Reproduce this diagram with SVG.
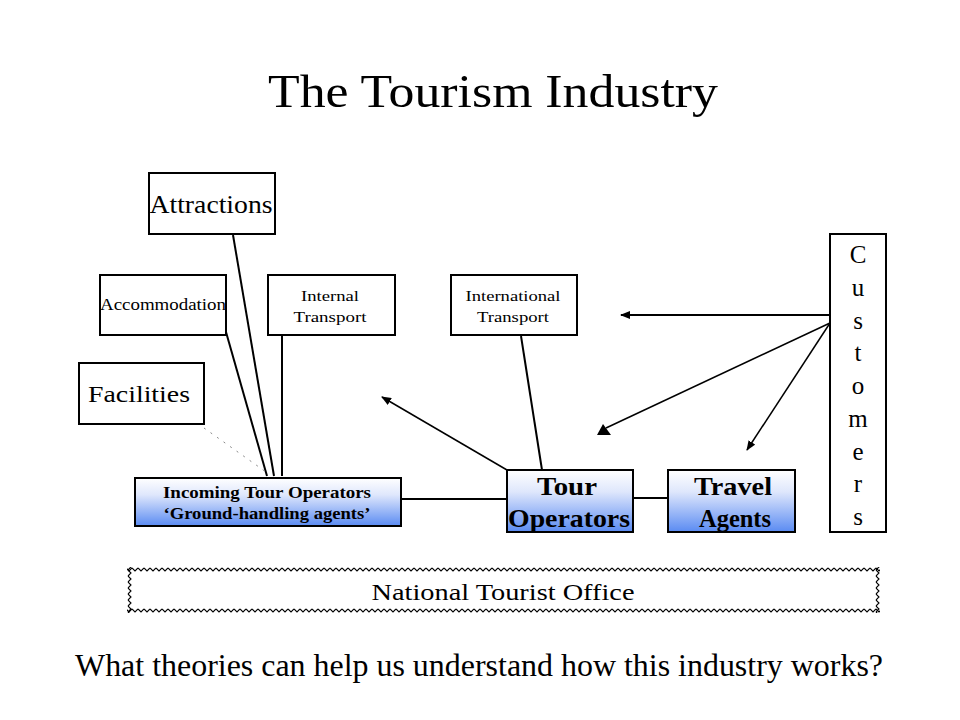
<svg xmlns="http://www.w3.org/2000/svg" width="960" height="720" viewBox="0 0 960 720">
<style>
.box{fill:#fff;stroke:#000;stroke-width:2}
.gbox{fill:url(#blue);stroke:#000;stroke-width:2}
.t{font-family:"Liberation Serif","Times New Roman",serif;fill:#000;text-anchor:middle}
.b{font-weight:bold}
.ln{stroke:#000;stroke-width:2;fill:none}
.thin{stroke:#000;stroke-width:1.5;fill:none}
</style>
<defs>
<linearGradient id="blue" x1="0" y1="0" x2="0" y2="1">
<stop offset="0" stop-color="#ffffff"/>
<stop offset="0.35" stop-color="#dfe7fc"/>
<stop offset="1" stop-color="#5a8bf2"/>
</linearGradient>
<pattern id="wh" patternUnits="userSpaceOnUse" x="0" y="567" width="6" height="5">
<path d="M0,1 L3,4 L6,1" stroke="#000" stroke-width="1.1" fill="none"/>
</pattern>
<pattern id="wv" patternUnits="userSpaceOnUse" x="127" y="0" width="5" height="6">
<path d="M1,0 L4,3 L1,6" stroke="#000" stroke-width="1.1" fill="none"/>
</pattern>
<pattern id="wh2" patternUnits="userSpaceOnUse" x="0" y="608" width="6" height="5">
<path d="M0,1 L3,4 L6,1" stroke="#000" stroke-width="1.1" fill="none"/>
</pattern>
<pattern id="wv2" patternUnits="userSpaceOnUse" x="875" y="0" width="5" height="6">
<path d="M1,0 L4,3 L1,6" stroke="#000" stroke-width="1.1" fill="none"/>
</pattern>
<marker id="ah" markerWidth="10" markerHeight="8" refX="9" refY="4" orient="auto" markerUnits="userSpaceOnUse">
<path d="M0,0 L10,4 L0,8 Z" fill="#000"/>
</marker>
</defs>
<rect width="960" height="720" fill="#fff"/>

<text class="t" x="493" y="107" font-size="46" textLength="450" lengthAdjust="spacingAndGlyphs">The Tourism Industry</text>

<g id="connectors">
<line class="ln" x1="233" y1="235" x2="274" y2="476"/>
<line class="ln" x1="226" y1="332" x2="267" y2="476"/>
<line class="ln" x1="282" y1="328" x2="282" y2="476"/>
<line x1="204" y1="428" x2="266" y2="472" stroke="#888" stroke-width="1" stroke-dasharray="2 6"/>
<line class="ln" x1="401" y1="499" x2="507" y2="499"/>
<line class="ln" x1="627" y1="498" x2="668" y2="498"/>
<line class="ln" x1="521" y1="336" x2="542" y2="470"/>
<line class="thin" x1="507" y1="470" x2="382" y2="397" marker-end="url(#ah)"/>
<line class="ln" x1="830" y1="315" x2="621" y2="315" marker-end="url(#ah)"/>
<line class="thin" x1="830" y1="323" x2="606" y2="428"/>
<polygon points="603,424 597,435 611,435" fill="#000"/>
<line class="thin" x1="830" y1="323" x2="747" y2="450" marker-end="url(#ah)"/>
</g>

<g id="attractions">
<rect class="box" x="149" y="173" width="126" height="61"/>
<text class="t" x="211" y="213" font-size="26" textLength="123" lengthAdjust="spacingAndGlyphs">Attractions</text>
</g>
<g id="accommodation">
<rect class="box" x="100" y="275" width="126" height="60"/>
<text class="t" x="163" y="310" font-size="16" textLength="126" lengthAdjust="spacingAndGlyphs">Accommodation</text>
</g>
<g id="internal-transport">
<rect class="box" x="268" y="275" width="127" height="60"/>
<text class="t" x="330" y="301" font-size="15" textLength="58" lengthAdjust="spacingAndGlyphs">Internal</text>
<text class="t" x="330" y="322" font-size="15" textLength="73" lengthAdjust="spacingAndGlyphs">Transport</text>
</g>
<g id="international-transport">
<rect class="box" x="451" y="275" width="126" height="60"/>
<text class="t" x="513" y="301" font-size="15" textLength="95" lengthAdjust="spacingAndGlyphs">International</text>
<text class="t" x="513" y="322" font-size="15" textLength="72" lengthAdjust="spacingAndGlyphs">Transport</text>
</g>
<g id="facilities">
<rect class="box" x="79" y="363" width="125" height="61"/>
<text class="t" x="139" y="402" font-size="24" textLength="102" lengthAdjust="spacingAndGlyphs">Facilities</text>
</g>
<g id="incoming">
<rect class="gbox" x="135" y="478" width="266" height="48"/>
<text class="t b" x="267" y="498" font-size="16" textLength="208" lengthAdjust="spacingAndGlyphs">Incoming Tour Operators</text>
<text class="t b" x="267" y="519" font-size="16" textLength="207" lengthAdjust="spacingAndGlyphs">‘Ground-handling agents’</text>
</g>
<g id="tour-operators">
<rect class="gbox" x="507" y="470" width="126" height="62"/>
<text class="t b" x="567" y="495" font-size="26" textLength="60" lengthAdjust="spacingAndGlyphs">Tour</text>
<text class="t b" x="569" y="527" font-size="26" textLength="122" lengthAdjust="spacingAndGlyphs">Operators</text>
</g>
<g id="travel-agents">
<rect class="gbox" x="668" y="470" width="127" height="62"/>
<text class="t b" x="733" y="495" font-size="26" textLength="78" lengthAdjust="spacingAndGlyphs">Travel</text>
<text class="t b" x="735" y="527" font-size="26" textLength="72" lengthAdjust="spacingAndGlyphs">Agents</text>
</g>
<g id="customers">
<rect class="box" x="830" y="234" width="56" height="298"/>
<g class="t" font-size="25">
<text x="858" y="263">C</text>
<text x="858" y="296">u</text>
<text x="858" y="329">s</text>
<text x="858" y="361">t</text>
<text x="858" y="394">o</text>
<text x="858" y="427">m</text>
<text x="858" y="460">e</text>
<text x="858" y="492">r</text>
<text x="858" y="525">s</text>
</g>
</g>
<g id="national-tourist-office">
<rect x="127" y="567" width="753" height="46" fill="#fff"/>
<rect x="127" y="567" width="753" height="5" fill="url(#wh)"/>
<rect x="127" y="608" width="753" height="5" fill="url(#wh2)"/>
<rect x="127" y="567" width="5" height="46" fill="url(#wv)"/>
<rect x="875" y="567" width="5" height="46" fill="url(#wv2)"/>
<text class="t" x="503" y="600" font-size="24" textLength="263" lengthAdjust="spacingAndGlyphs">National Tourist Office</text>
</g>

<text class="t" x="479" y="676" font-size="31" textLength="808" lengthAdjust="spacingAndGlyphs">What theories can help us understand how this industry works?</text>
</svg>
